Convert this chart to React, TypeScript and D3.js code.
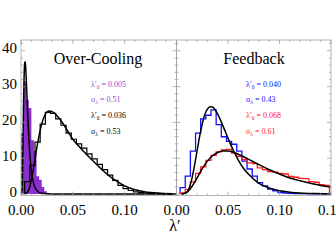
import React from "react";
import * as d3 from "d3";

// histogram bins (value per bin)
const coolLowStart = 0;
const coolLowWidth = 0.0025;
const coolLowBins = [17, 31.4, 26.3, 24, 15, 12, 5, 4, 2, 0.8, 0.3];

const binStart = 0.0035;
const binWidth = 0.005;
const coolHighBins = [3.5, 8, 14.5, 19.5, 22.8, 22.5, 21, 19.2, 17, 15.3, 14, 12.8, 11.2, 9.8, 8.3, 6.8, 5.3, 3.8, 2.4, 1.5, 1.0, 0.6, 0.4, 0.3, 0.2, 0.1, 0.1, 0.05, 0.05];
const fbBlueBins = [1.8, 5, 12, 17, 21, 22, 23.5, 19.4, 16, 14.7, 13.9, 12, 9.2, 7, 5, 3.2, 2.3, 1.4, 0.9, 0.4, 0.3, 0.2, 0.1, 0.1, 0.1, 0.05, 0.05, 0.05, 0.05];
const fbRedBins = [0.3, 1.3, 3.4, 5.8, 7.6, 9.4, 10.8, 11.8, 12.3, 12.5, 11.4, 10.5, 9.6, 8.7, 8.5, 7.3, 6.8, 6.3, 6.1, 5.8, 5.6, 4.9, 4.7, 4.4, 4.3, 3.5, 3.3, 2.6, 2.4];

// fitted log-normal curves, sampled from the figure [lambda, P]
const coolLowFit: [number, number][] = [[0, 0], [0.001, 1.1], [0.0015, 6.7], [0.002, 16.1], [0.0025, 25.8], [0.003, 32.8], [0.0035, 36.4], [0.004, 36.9], [0.0045, 35.4], [0.005, 32.5], [0.006, 25.4], [0.007, 18.7], [0.008, 13.3], [0.009, 9.3], [0.01, 6.5], [0.012, 3.1], [0.015, 1.1], [0.02, 0.2], [0.03, 0], [0.15, 0]];
const coolHighFit: [number, number][] = [[0.004, 0], [0.0075, 1.2], [0.01, 4.0], [0.0125, 8.0], [0.015, 12.5], [0.0175, 16.4], [0.02, 19.6], [0.0225, 21.7], [0.025, 22.9], [0.0275, 23.2], [0.03, 23.0], [0.035, 21.8], [0.04, 19.9], [0.045, 17.6], [0.05, 15.3], [0.055, 13.6], [0.06, 12.0], [0.07, 9.1], [0.08, 6.3], [0.09, 4.0], [0.1, 2.3], [0.11, 1.2], [0.12, 0.6], [0.135, 0.25], [0.15, 0.1]];
const fbBlueFit: [number, number][] = [[0.005, 0], [0.01, 0.5], [0.0125, 1.84], [0.015, 4.4], [0.0175, 8.0], [0.02, 12.1], [0.0225, 16.2], [0.025, 19.6], [0.0275, 22.2], [0.03, 23.7], [0.0325, 24.4], [0.035, 24.3], [0.0375, 23.5], [0.04, 22.3], [0.045, 19.1], [0.05, 15.6], [0.055, 12.3], [0.06, 9.5], [0.065, 7.2], [0.07, 5.5], [0.08, 3.0], [0.09, 1.7], [0.1, 0.92], [0.11, 0.53], [0.12, 0.29], [0.135, 0.13], [0.15, 0.05]];
const fbRedFit: [number, number][] = [[0.005, 0], [0.01, 0.5], [0.015, 2.1], [0.02, 4.5], [0.025, 7.1], [0.03, 9.2], [0.035, 10.7], [0.04, 11.6], [0.045, 12.0], [0.05, 12.0], [0.06, 11.1], [0.07, 9.7], [0.08, 8.2], [0.09, 6.8], [0.1, 5.6], [0.11, 4.5], [0.12, 3.7], [0.13, 3.0], [0.14, 2.4], [0.15, 2.0]];

const xTickLabels = ["0.00", "0.05", "0.10", "0.15"];
const xMajor = [0, 0.05, 0.1, 0.15];
const yMajor = [0, 10, 20, 30, 40];
const yTickLabels = ["0", "10", "20", "30", "40"];

const FONT = "'Liberation Serif', 'Times New Roman', serif";
const FRAME = "#a3a3a3";
const PURPLE = "#8a2fcc";
const PURPLE_TXT = "#9a4ad8";
const BLUE = "#1010ff";
const RED = "#ff1a1a";

const W = 336;
const H = 240;
const TOP = 40;
const BOTTOM = 195.5;
const y = d3.scaleLinear().domain([-0.4, 43]).range([BOTTOM, TOP]);

function stepPoints(start: number, w: number, vals: number[]): [number, number][] {
  const pts: [number, number][] = [[start, 0]];
  vals.forEach((v, i) => pts.push([start + i * w, v]));
  const end = start + vals.length * w;
  pts.push([end, vals[vals.length - 1]]);
  pts.push([end, 0]);
  return pts;
}

function Frame({ x }: { x: d3.ScaleLinear<number, number> }) {
  const [x0, x1] = x.range();
  const minorX = d3.range(0, 0.1501, 0.01);
  const minorY = d3.range(0, 43, 2);
  const ticks: JSX.Element[] = [];
  minorX.forEach((v, i) => {
    const major = xMajor.some((m) => Math.abs(m - v) < 1e-6);
    const len = major ? 4 : 2;
    const px = x(v);
    ticks.push(<line key={"b" + i} x1={px} x2={px} y1={BOTTOM} y2={BOTTOM - len} />);
    ticks.push(<line key={"t" + i} x1={px} x2={px} y1={TOP} y2={TOP + len} />);
  });
  minorY.forEach((v, i) => {
    const major = v % 10 === 0;
    const len = major ? 4 : 2;
    const py = y(v);
    ticks.push(<line key={"l" + i} x1={x0} x2={x0 + len} y1={py} y2={py} />);
    ticks.push(<line key={"r" + i} x1={x1} x2={x1 - len} y1={py} y2={py} />);
  });
  return (
    <g stroke={FRAME} strokeWidth={0.8} fill="none">
      <rect x={x0} y={TOP} width={x1 - x0} height={BOTTOM - TOP} />
      {ticks}
    </g>
  );
}

function Note({ x, yy, color, sym, sub, val }: { x: number; yy: number; color: string; sym: string; sub: string; val: string }) {
  return (
    <text x={x} y={yy} fill={color} fontFamily={FONT} fontSize={8}>
      <tspan>{sym}</tspan>
      <tspan dy={2} fontSize={5.5}>{sub}</tspan>
      <tspan dy={-2}>{" = " + val}</tspan>
    </text>
  );
}

export default function App() {
  const xL = d3.scaleLinear().domain([0, 0.15]).range([21, 176.5]);
  const xR = d3.scaleLinear().domain([0, 0.15]).range([176.5, 331]);

  const stepL = d3.line<[number, number]>().x((d) => xL(d[0])).y((d) => y(d[1])).curve(d3.curveStepAfter);
  const fitL = d3.line<[number, number]>().x((d) => xL(d[0])).y((d) => y(d[1])).curve(d3.curveMonotoneX);
  const stepR = d3.line<[number, number]>().x((d) => xR(d[0])).y((d) => y(d[1])).curve(d3.curveStepAfter);
  const fitR = d3.line<[number, number]>().x((d) => xR(d[0])).y((d) => y(d[1])).curve(d3.curveMonotoneX);
  const areaL = d3
    .area<[number, number]>()
    .x((d) => xL(d[0]))
    .y0(y(0))
    .y1((d) => y(d[1]))
    .curve(d3.curveStepAfter);

  return (
    <svg width={W} height={H} style={{ position: "absolute", left: 0, top: 0, background: "#fff" }}>
      <defs>
        <clipPath id="clipL">
          <rect x={21} y={TOP} width={155.5} height={BOTTOM - TOP} />
        </clipPath>
        <clipPath id="clipR">
          <rect x={176.5} y={TOP} width={154.5} height={BOTTOM - TOP} />
        </clipPath>
      </defs>

      {/* left panel: over-cooling */}
      <g clipPath="url(#clipL)">
        <path d={areaL(stepPoints(coolLowStart, coolLowWidth, coolLowBins)) || ""} fill={PURPLE} />
        <path d={stepL(stepPoints(binStart, binWidth, coolHighBins)) || ""} fill="none" stroke="#000" strokeWidth={1.2} />
        <path d={fitL(coolLowFit) || ""} fill="none" stroke="#000" strokeWidth={1.5} />
        <path d={fitL(coolHighFit) || ""} fill="none" stroke="#000" strokeWidth={1.5} />
      </g>

      {/* right panel: feedback */}
      <g clipPath="url(#clipR)">
        <path d={stepR(stepPoints(binStart, binWidth, fbBlueBins)) || ""} fill="none" stroke={BLUE} strokeWidth={1.3} />
        <path d={stepR(stepPoints(binStart, binWidth, fbRedBins)) || ""} fill="none" stroke={RED} strokeWidth={1.3} />
        <path d={fitR(fbBlueFit) || ""} fill="none" stroke="#000" strokeWidth={1.5} />
        <path d={fitR(fbRedFit) || ""} fill="none" stroke="#000" strokeWidth={1.5} />
      </g>

      <Frame x={xL} />
      <Frame x={xR} />

      {/* y tick labels */}
      {yMajor.map((v, i) => (
        <text key={"yl" + i} x={17} y={y(v) - 2.5} dy="0.35em" textAnchor="end" fontFamily={FONT} fontSize={15}>
          {yTickLabels[i]}
        </text>
      ))}
      {/* x tick labels */}
      {xMajor.slice(0, 3).map((v, i) => (
        <text key={"xl" + i} x={xL(v)} y={215} textAnchor="middle" fontFamily={FONT} fontSize={15}>
          {xTickLabels[i]}
        </text>
      ))}
      {xMajor.map((v, i) => (
        <text key={"xr" + i} x={xR(v)} y={215} textAnchor="middle" fontFamily={FONT} fontSize={15}>
          {xTickLabels[i]}
        </text>
      ))}
      <text x={175} y={231} textAnchor="middle" fontFamily={FONT} fontSize={16}>
        λ′
      </text>

      {/* titles */}
      <text x={98} y={64} textAnchor="middle" fontFamily={FONT} fontSize={16}>
        Over-Cooling
      </text>
      <text x={254} y={64} textAnchor="middle" fontFamily={FONT} fontSize={16}>
        Feedback
      </text>

      {/* fit parameters */}
      <Note x={91} yy={87} color={PURPLE_TXT} sym="λ′" sub="0" val="0.005" />
      <Note x={91} yy={102} color={PURPLE_TXT} sym="σ" sub="λ" val="0.51" />
      <Note x={91} yy={118} color="#000" sym="λ′" sub="0" val="0.036" />
      <Note x={91} yy={134} color="#000" sym="σ" sub="λ" val="0.53" />
      <Note x={246} yy={87} color={BLUE} sym="λ′" sub="0" val="0.040" />
      <Note x={246} yy={102} color={BLUE} sym="σ" sub="λ" val="0.43" />
      <Note x={246} yy={118} color={RED} sym="λ′" sub="0" val="0.068" />
      <Note x={246} yy={134} color={RED} sym="σ" sub="λ" val="0.61" />
    </svg>
  );
}
